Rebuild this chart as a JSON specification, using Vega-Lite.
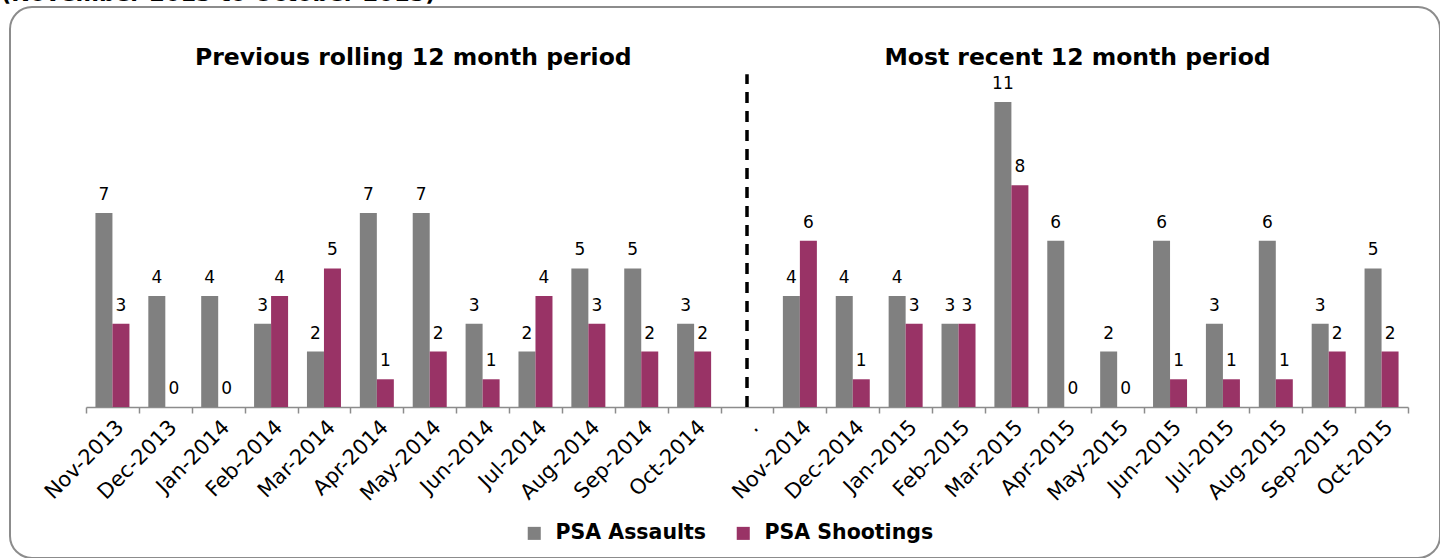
{
  "$schema": "https://vega.github.io/schema/vega-lite/v6.json",
  "width": 1430,
  "height": 551,
  "autosize": {"type": "none"},
  "padding": {"left": 10, "top": 7, "right": 0, "bottom": 0},
  "background": "white",
  "config": {
    "view": {"stroke": "#8c8c8c", "strokeWidth": 2, "cornerRadius": 22},
    "font": "DejaVu Sans"
  },
  "title": {
    "text": "(November 2013 to October 2015)",
    "anchor": "start",
    "dx": -9,
    "dy": 16,
    "offset": 0,
    "baseline": "alphabetic",
    "fontSize": 22.5,
    "fontWeight": "bold",
    "color": "black",
    "font": "DejaVu Sans"
  },
  "datasets": {
    "bars": [
      {"month": "Nov-2013", "series": "PSA Assaults", "value": 7},
      {"month": "Nov-2013", "series": "PSA Shootings", "value": 3},
      {"month": "Dec-2013", "series": "PSA Assaults", "value": 4},
      {"month": "Dec-2013", "series": "PSA Shootings", "value": 0},
      {"month": "Jan-2014", "series": "PSA Assaults", "value": 4},
      {"month": "Jan-2014", "series": "PSA Shootings", "value": 0},
      {"month": "Feb-2014", "series": "PSA Assaults", "value": 3},
      {"month": "Feb-2014", "series": "PSA Shootings", "value": 4},
      {"month": "Mar-2014", "series": "PSA Assaults", "value": 2},
      {"month": "Mar-2014", "series": "PSA Shootings", "value": 5},
      {"month": "Apr-2014", "series": "PSA Assaults", "value": 7},
      {"month": "Apr-2014", "series": "PSA Shootings", "value": 1},
      {"month": "May-2014", "series": "PSA Assaults", "value": 7},
      {"month": "May-2014", "series": "PSA Shootings", "value": 2},
      {"month": "Jun-2014", "series": "PSA Assaults", "value": 3},
      {"month": "Jun-2014", "series": "PSA Shootings", "value": 1},
      {"month": "Jul-2014", "series": "PSA Assaults", "value": 2},
      {"month": "Jul-2014", "series": "PSA Shootings", "value": 4},
      {"month": "Aug-2014", "series": "PSA Assaults", "value": 5},
      {"month": "Aug-2014", "series": "PSA Shootings", "value": 3},
      {"month": "Sep-2014", "series": "PSA Assaults", "value": 5},
      {"month": "Sep-2014", "series": "PSA Shootings", "value": 2},
      {"month": "Oct-2014", "series": "PSA Assaults", "value": 3},
      {"month": "Oct-2014", "series": "PSA Shootings", "value": 2},
      {"month": "Nov-2014", "series": "PSA Assaults", "value": 4},
      {"month": "Nov-2014", "series": "PSA Shootings", "value": 6},
      {"month": "Dec-2014", "series": "PSA Assaults", "value": 4},
      {"month": "Dec-2014", "series": "PSA Shootings", "value": 1},
      {"month": "Jan-2015", "series": "PSA Assaults", "value": 4},
      {"month": "Jan-2015", "series": "PSA Shootings", "value": 3},
      {"month": "Feb-2015", "series": "PSA Assaults", "value": 3},
      {"month": "Feb-2015", "series": "PSA Shootings", "value": 3},
      {"month": "Mar-2015", "series": "PSA Assaults", "value": 11},
      {"month": "Mar-2015", "series": "PSA Shootings", "value": 8},
      {"month": "Apr-2015", "series": "PSA Assaults", "value": 6},
      {"month": "Apr-2015", "series": "PSA Shootings", "value": 0},
      {"month": "May-2015", "series": "PSA Assaults", "value": 2},
      {"month": "May-2015", "series": "PSA Shootings", "value": 0},
      {"month": "Jun-2015", "series": "PSA Assaults", "value": 6},
      {"month": "Jun-2015", "series": "PSA Shootings", "value": 1},
      {"month": "Jul-2015", "series": "PSA Assaults", "value": 3},
      {"month": "Jul-2015", "series": "PSA Shootings", "value": 1},
      {"month": "Aug-2015", "series": "PSA Assaults", "value": 6},
      {"month": "Aug-2015", "series": "PSA Shootings", "value": 1},
      {"month": "Sep-2015", "series": "PSA Assaults", "value": 3},
      {"month": "Sep-2015", "series": "PSA Shootings", "value": 2},
      {"month": "Oct-2015", "series": "PSA Assaults", "value": 5},
      {"month": "Oct-2015", "series": "PSA Shootings", "value": 2}
    ],
    "divider": [{"month": ".", "from": 0, "to": 12}],
    "heading1": [{"month": "May-2014", "level": 12.6, "label": "Previous rolling 12 month period"}],
    "heading2": [{"month": "Apr-2015", "level": 12.6, "label": "Most recent 12 month period"}]
  },
  "encoding": {
    "x": {
      "field": "month",
      "type": "nominal",
      "sort": null,
      "title": null,
      "scale": {
        "domain": ["Nov-2013", "Dec-2013", "Jan-2014", "Feb-2014", "Mar-2014", "Apr-2014", "May-2014", "Jun-2014", "Jul-2014", "Aug-2014", "Sep-2014", "Oct-2014", ".", "Nov-2014", "Dec-2014", "Jan-2015", "Feb-2015", "Mar-2015", "Apr-2015", "May-2015", "Jun-2015", "Jul-2015", "Aug-2015", "Sep-2015", "Oct-2015"],
        "range": [76, 1398],
        "paddingInner": 0,
        "paddingOuter": 0
      },
      "axis": {
        "orient": "bottom",
        "offset": -151,
        "domainColor": "#8c8c8c",
        "domainWidth": 1.5,
        "tickColor": "#8c8c8c",
        "tickWidth": 1.5,
        "tickSize": 6,
        "tickBand": "extent",
        "labelAngle": -45,
        "labelFontSize": 21,
        "labelColor": "black",
        "labelFont": "DejaVu Sans",
        "labelPadding": 3,
        "labelDx": -6,
        "labelOverlap": false
      }
    }
  },
  "layer": [
    {
      "data": {"name": "bars"},
      "mark": {"type": "bar"},
      "encoding": {
        "xOffset": {"field": "series", "type": "nominal", "scale": {"paddingOuter": 0.555, "paddingInner": 0}},
        "y": {"field": "value", "type": "quantitative", "scale": {"domain": [0, 12], "range": [400, 67.3], "nice": false}, "axis": null},
        "color": {
          "field": "series",
          "type": "nominal",
          "scale": {"domain": ["PSA Assaults", "PSA Shootings"], "range": ["#808080", "#993366"]},
          "legend": {
            "orient": "none",
            "legendX": 514,
            "legendY": 516,
            "direction": "horizontal",
            "columns": 2,
            "title": null,
            "symbolType": "square",
            "symbolSize": 170,
            "symbolStrokeWidth": 0,
            "labelFontSize": 20.5,
            "labelFontWeight": "bold",
            "labelColor": "black",
            "labelFont": "DejaVu Sans",
            "labelOffset": 11,
            "labelLimit": 300,
            "columnPadding": 26
          }
        }
      }
    },
    {
      "data": {"name": "bars"},
      "mark": {"type": "text", "baseline": "middle", "dy": -18, "fontSize": 17, "color": "black", "font": "DejaVu Sans"},
      "encoding": {
        "xOffset": {"field": "series", "type": "nominal"},
        "y": {"field": "value", "type": "quantitative"},
        "text": {"field": "value", "type": "quantitative"}
      }
    },
    {
      "data": {"name": "divider"},
      "mark": {"type": "rule", "color": "black", "strokeWidth": 3.5, "strokeDash": [11, 8]},
      "encoding": {
        "y": {"field": "from", "type": "quantitative"},
        "y2": {"field": "to"}
      }
    },
    {
      "data": {"name": "heading1"},
      "mark": {"type": "text", "baseline": "middle", "align": "center", "fontSize": 23.5, "fontWeight": "bold", "color": "black", "font": "DejaVu Sans"},
      "encoding": {
        "x": {"field": "month", "type": "nominal", "bandPosition": 0.19},
        "y": {"field": "level", "type": "quantitative"},
        "text": {"field": "label"}
      }
    },
    {
      "data": {"name": "heading2"},
      "mark": {"type": "text", "baseline": "middle", "align": "center", "fontSize": 23.5, "fontWeight": "bold", "color": "black", "font": "DejaVu Sans"},
      "encoding": {
        "x": {"field": "month", "type": "nominal", "bandPosition": 0.75},
        "y": {"field": "level", "type": "quantitative"},
        "text": {"field": "label"}
      }
    }
  ]
}
